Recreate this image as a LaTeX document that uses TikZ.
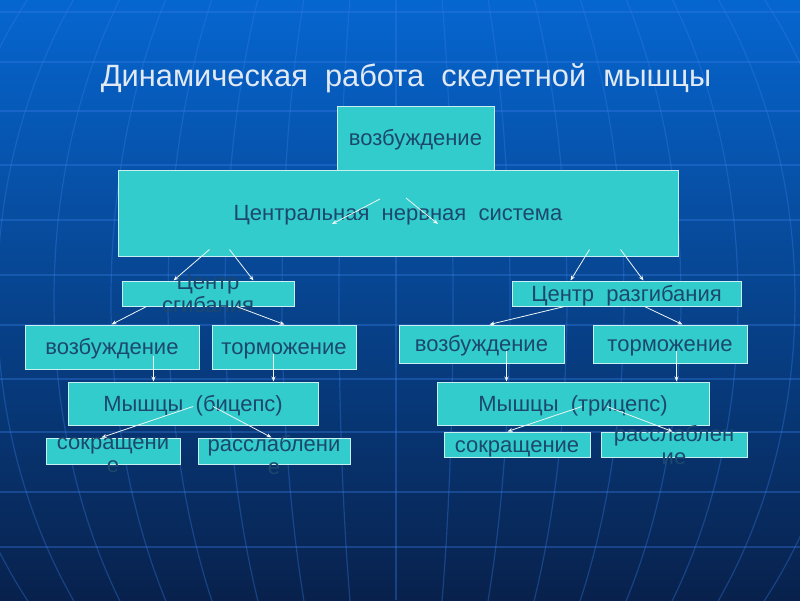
\documentclass[tikz,border=0pt]{standalone}
\usepackage{fontspec}
\setmainfont{Liberation Sans}
\usepackage{xcolor}
\usetikzlibrary{arrows.meta, positioning}

\definecolor{bgtop}{RGB}{6,102,208}
\definecolor{bgmid}{RGB}{10,60,138}
\definecolor{bgbottom}{RGB}{8,33,76}
\definecolor{gridcol}{RGB}{55,125,230}
\definecolor{boxfill}{RGB}{51,204,204}
\definecolor{boxline}{RGB}{200,240,240}
\definecolor{textcol}{RGB}{28,72,110}
\definecolor{arrowcol}{RGB}{238,246,246}
\definecolor{titlecol}{RGB}{225,233,245}

\begin{document}
\begin{tikzpicture}[
    x=1pt, y=-1pt,
    box/.style={
        rectangle, draw=boxline, line width=1pt,
        fill=boxfill, inner sep=0pt
    },
    boxtext/.style={
        text=textcol, align=center, inner sep=0pt,
        font=\fontsize{22}{23}\selectfont
    },
    oneline/.style={boxtext, text height=18pt, text depth=2.6pt},
    arrow/.style={-{Stealth[length=5pt, width=4pt]}, line width=0.8pt, draw=arrowcol},
    globeline/.style={draw=gridcol, line width=1.2pt, opacity=0.35},
]
\useasboundingbox (0,0) rectangle (800,600);

% Фон
\shade[top color=bgtop, middle color=bgmid, bottom color=bgbottom] (0,0) rectangle (800,600);
\begin{scope}
\clip (0,0) rectangle (800,600);
\foreach \k in {1,...,8}
    \draw[globeline] (396,300) ellipse [x radius=57*\k, y radius=510];
\draw[globeline] (396,0) -- (396,600);
\foreach \yy in {12,62,111,165,220,275,325,379,432,492,547}
    \draw[globeline] (0,\yy) -- (800,\yy);
\end{scope}

% Заголовок
\node[text=titlecol, font=\fontsize{30.8}{33}\selectfont, anchor=base] (title) at (406,86)
    {Динамическая~ работа~ скелетной~ мышцы};

% Блоки
\node[box, minimum width=560pt, minimum height=86pt] (cns) at (398,213) {};
\node[box, minimum width=157pt, minimum height=64pt] (exc) at (415.5,138) {};
\node[box, minimum width=172pt, minimum height=25pt] (sgib) at (208,293.5) {};
\node[box, minimum width=229pt, minimum height=25pt] (razg) at (626.5,293.5) {};
\node[box, minimum width=174pt, minimum height=44pt] (excL) at (112,347) {};
\node[box, minimum width=144pt, minimum height=44pt] (inhL) at (284,347) {};
\node[box, minimum width=165pt, minimum height=38pt] (excR) at (481.5,344) {};
\node[box, minimum width=154pt, minimum height=38pt] (inhR) at (670,344) {};
\node[box, minimum width=250pt, minimum height=43pt] (bic) at (193,403.5) {};
\node[box, minimum width=272pt, minimum height=43pt] (tric) at (573,403.5) {};
\node[box, minimum width=134pt, minimum height=26pt] (contrL) at (113,451) {};
\node[box, minimum width=152pt, minimum height=26pt] (relL) at (274,451) {};
\node[box, minimum width=146pt, minimum height=25pt] (contrR) at (517,444.5) {};
\node[box, minimum width=146pt, minimum height=25pt] (relR) at (674,444.5) {};

% Надписи
\node[oneline] (exctext) at (exc) {возбуждение};
\node[oneline] (cnstext) at (cns) {Центральная~ нервная~ система};
\node[boxtext] (sgibtext) at (sgib) {Центр\\сгибания};
\node[oneline] (razgtext) at (razg) {Центр~ разгибания};
\node[oneline] (excLtext) at (excL) {возбуждение};
\node[oneline] (inhLtext) at (inhL) {торможение};
\node[oneline] (excRtext) at (excR) {возбуждение};
\node[oneline] (inhRtext) at (inhR) {торможение};
\node[oneline] (bictext) at (bic) {Мышцы~ (бицепс)};
\node[oneline] (trictext) at (tric) {Мышцы~ (трицепс)};
\node[boxtext] (contrLtext) at ([yshift=-4pt]contrL.center) {сокращени\\е};
\node[boxtext] (relLtext) at ([yshift=-4pt]relL.center) {расслаблени\\е};
\node[oneline] (contrRtext) at (contrR) {сокращение};
\node[boxtext] (relRtext) at ([yshift=-1pt]relR.center) {расслаблен\\ие};

%% Стрелки
\draw[arrow] ([shift={(-18,-14)}]cns.center) -- ([shift={(-66,11)}]cns.center);
\draw[arrow] ([shift={(8,-15)}]cns.center) -- ([shift={(40,11)}]cns.center);

\draw[arrow] ([shift={(92,-7)}]cns.south west) -- ([shift={(52,0)}]sgib.north west);
\draw[arrow] ([shift={(112,-7)}]cns.south west) -- ([shift={(132,0)}]sgib.north west);
\draw[arrow] ([shift={(-89,-7)}]cns.south east) -- ([shift={(59,0)}]razg.north west);
\draw[arrow] ([shift={(-58,-7)}]cns.south east) -- ([shift={(132,0)}]razg.north west);

\draw[arrow] ([shift={(25,0)}]sgib.south west) -- ([shift={(87,0)}]excL.north west);
\draw[arrow] ([shift={(115,0)}]sgib.south west) -- ([shift={(73,0)}]inhL.north west);
\draw[arrow] ([shift={(53,0)}]razg.south west) -- ([shift={(91,0)}]excR.north west);
\draw[arrow] ([shift={(133,0)}]razg.south west) -- ([shift={(90,0)}]inhR.north west);

\draw[arrow] ([shift={(129,-14)}]excL.south west) -- ([shift={(86,0)}]bic.north west);
\draw[arrow] ([shift={(62,-16)}]inhL.south west) -- ([shift={(206,0)}]bic.north west);
\draw[arrow] ([shift={(108,-13)}]excR.south west) -- ([shift={(70,0)}]tric.north west);
\draw[arrow] ([shift={(84,-13)}]inhR.south west) -- ([shift={(240,0)}]tric.north west);

\draw[arrow] ([shift={(0,3)}]bic.center) -- ([shift={(56,0)}]contrL.north west);
\draw[arrow] ([shift={(20,3)}]bic.center) -- ([shift={(74,0)}]relL.north west);
\draw[arrow] ([shift={(9,3)}]tric.center) -- ([shift={(64,0)}]contrR.north west);
\draw[arrow] ([shift={(34,3)}]tric.center) -- ([shift={(72,0)}]relR.north west);
\end{tikzpicture}
\end{document}
